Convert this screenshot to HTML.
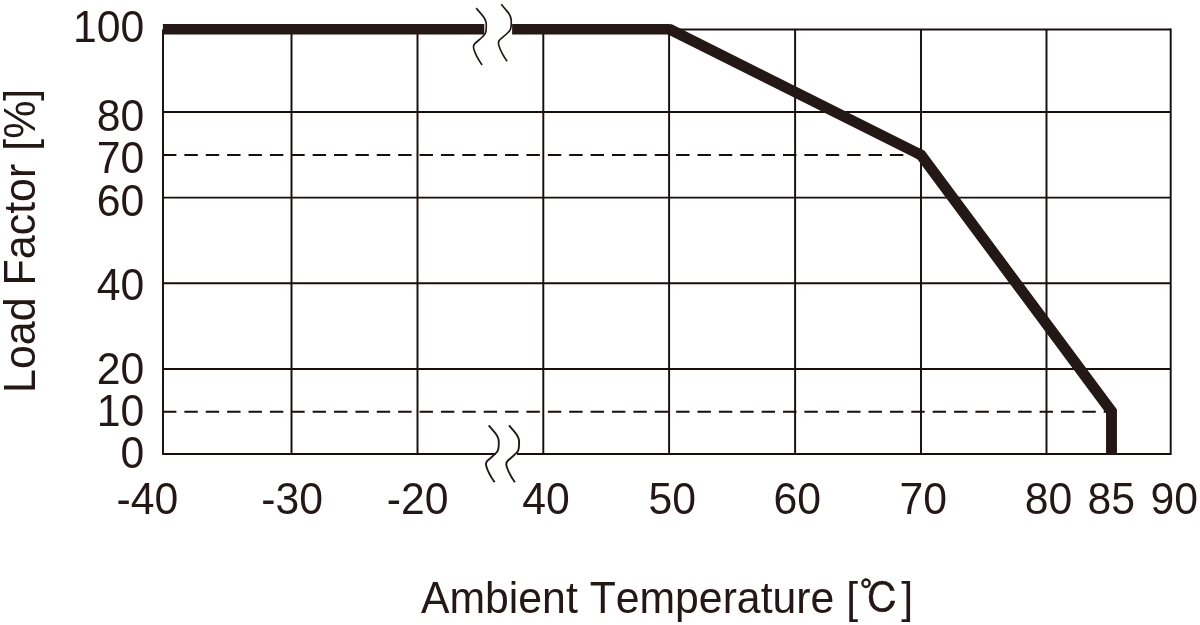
<!DOCTYPE html>
<html lang="en">
<head>
<meta charset="utf-8">
<title>Derating Curve</title>
<style>
html,body{margin:0;padding:0;background:#fff;}
body{width:1200px;height:625px;overflow:hidden;position:relative;}
svg{position:absolute;left:0;top:0;display:block;}
text{font-family:"Liberation Sans","Noto Sans CJK JP",sans-serif;font-size:42.75px;fill:#231815;font-kerning:none;}
.g{stroke:#180e0c;stroke-width:1.95;fill:none;}
.d{stroke:#180e0c;stroke-width:1.95;fill:none;stroke-dasharray:13.4 7.98;}
.k{stroke:#231815;stroke-width:10.4;fill:none;stroke-linecap:butt;stroke-linejoin:miter;}
.s{stroke:#231815;stroke-width:1.9;fill:none;stroke-linecap:butt;}
.cj{font-family:"Liberation Sans","IPAGothic","Noto Sans CJK JP",sans-serif;font-weight:400;stroke:#231815;stroke-width:0.55;}
</style>
</head>
<body>
<svg width="1200" height="625" viewBox="0 0 1200 625">
<rect x="0" y="0" width="1200" height="625" fill="#ffffff"/>
<g class="g">
<line x1="163" y1="29.4" x2="163" y2="454"/>
<line x1="291.5" y1="29.4" x2="291.5" y2="454"/>
<line x1="417.5" y1="29.4" x2="417.5" y2="454"/>
<line x1="543.3" y1="29.4" x2="543.3" y2="454"/>
<line x1="669.1" y1="29.4" x2="669.1" y2="454"/>
<line x1="795.1" y1="29.4" x2="795.1" y2="454"/>
<line x1="921" y1="29.4" x2="921" y2="454"/>
<line x1="1046.5" y1="29.4" x2="1046.5" y2="454"/>
<line x1="1170.7" y1="28.45" x2="1170.7" y2="454.95"/>
<line x1="669" y1="29.4" x2="1170.7" y2="29.4"/>
<line x1="163" y1="112" x2="1170.7" y2="112"/>
<line x1="163" y1="197.6" x2="1170.7" y2="197.6"/>
<line x1="163" y1="283.2" x2="1170.7" y2="283.2"/>
<line x1="163" y1="368.9" x2="1170.7" y2="368.9"/>
<line x1="162.05" y1="454" x2="496" y2="454"/>
<line x1="517" y1="454" x2="1170.7" y2="454"/>
</g>
<line class="d" x1="163" y1="155" x2="915" y2="155"/>
<line class="d" x1="163" y1="411.7" x2="1107" y2="411.7"/>
<line class="k" x1="162.9" y1="29.3" x2="484.3" y2="29.3"/>
<line class="k" x1="512.1" y1="29.3" x2="670" y2="29.3"/>
<line class="k" style="stroke-width:10.9" x1="668.4" y1="28.7" x2="921" y2="155"/>
<polyline class="k" style="stroke-width:10.9" points="917,153 921,155 1111.5,411.4 1111.5,454.5"/>
<path class="s" style="stroke-width:1.65" d="M476.2,8.1 l6.2,7.3 c2.2,2.6 3.9,5.2 3.9,9.5 c0,3.8 0,6.5 -1,8.5 c-1.4,2.8 -3.5,4.2 -9.9,9.6 c-2,1.7 -2.3,3.6 -1.6,6 c1.4,4.8 4.4,10.5 8.3,16"/>
<path class="s" style="stroke-width:1.65" d="M501.2,4.3 l6.2,7.3 c2.2,2.6 3.9,5.2 3.9,9.5 c0,3.8 0,6.5 -1,8.5 c-1.4,2.8 -3.5,4.2 -9.9,9.6 c-2,1.7 -2.3,3.6 -1.6,6 c1.4,4.8 4.4,10.5 8.3,16"/>
<path class="s" d="M488.7,425.3 l6.2,7.3 c2.2,2.6 3.9,5.2 3.9,9.5 c0,3.8 0,6.5 -1,8.5 c-1.4,2.8 -3.5,4.2 -9.9,9.6 c-2,1.7 -2.3,3.6 -1.6,6 c1.4,4.8 4.4,10.5 8.3,16"/>
<path class="s" d="M509,425.3 l6.2,7.3 c2.2,2.6 3.9,5.2 3.9,9.5 c0,3.8 0,6.5 -1,8.5 c-1.4,2.8 -3.5,4.2 -9.9,9.6 c-2,1.7 -2.3,3.6 -1.6,6 c1.4,4.8 4.4,10.5 8.3,16"/>
<text transform="translate(144.3,42) scale(1,1.0535)" text-anchor="end">100</text>
<text transform="translate(144.3,130.6) scale(1,1.0535)" text-anchor="end">80</text>
<text transform="translate(144.3,173.1) scale(1,1.0535)" text-anchor="end">70</text>
<text transform="translate(144.3,215.6) scale(1,1.0535)" text-anchor="end">60</text>
<text transform="translate(144.3,299.5) scale(1,1.0535)" text-anchor="end">40</text>
<text transform="translate(144.3,383.6) scale(1,1.0535)" text-anchor="end">20</text>
<text transform="translate(144.3,425.6) scale(1,1.0535)" text-anchor="end">10</text>
<text transform="translate(144.3,467.6) scale(1,1.0535)" text-anchor="end">0</text>
<text transform="translate(147.5,514.3) scale(1,1.0535)" text-anchor="middle">-40</text>
<text transform="translate(292.2,514.3) scale(1,1.0535)" text-anchor="middle">-30</text>
<text transform="translate(417.7,514.3) scale(1,1.0535)" text-anchor="middle">-20</text>
<text transform="translate(545.9,514.3) scale(1,1.0535)" text-anchor="middle">40</text>
<text transform="translate(672.2,514.3) scale(1,1.0535)" text-anchor="middle">50</text>
<text transform="translate(797.3,514.3) scale(1,1.0535)" text-anchor="middle">60</text>
<text transform="translate(923.2,514.3) scale(1,1.0535)" text-anchor="middle">70</text>
<text transform="translate(1048.6,514.3) scale(1,1.0535)" text-anchor="middle">80</text>
<text transform="translate(1111.3,514.3) scale(1,1.0535)" text-anchor="middle">85</text>
<text transform="translate(1174.2,514.3) scale(1,1.0535)" text-anchor="middle">90</text>
<text transform="translate(421.0,612.5) scale(1,1.0535)">Ambient Temperature [<tspan class="cj" dx="1.6" dy="0.3" font-size="39.5">℃</tspan><tspan dx="2.2" dy="-0.3">]</tspan></text>
<text style="font-size:42.95px" transform="translate(35,392.9) rotate(-90) scale(1,1.0535)">Load Factor <tspan dx="1">[%]</tspan></text>
</svg>
</body>
</html>
